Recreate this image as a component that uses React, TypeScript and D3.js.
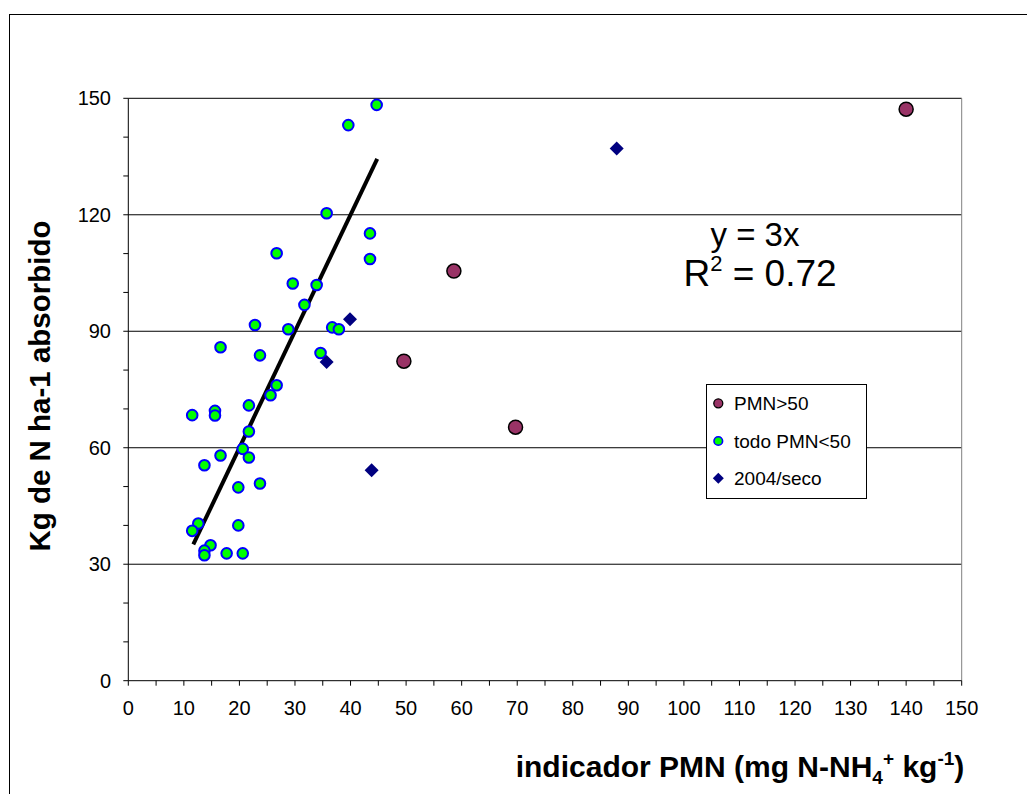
import React from "react";
import * as d3 from "d3";

// ---- data ----
const highX = [140, 58.6, 49.6, 69.7];
const highY = [147.2, 105.5, 82.3, 65.3];

const lowX = [44.7, 39.6, 35.7, 43.5, 43.5, 26.7, 29.6, 33.9, 31.7, 22.8, 28.8, 36.7, 37.9, 16.6, 23.7, 34.6, 26.7, 25.6, 21.7, 11.5, 15.6, 15.6, 21.7, 20.6, 21.7, 16.6, 13.7, 23.7, 19.8, 12.6, 11.5, 19.8, 14.8, 13.7, 13.7, 17.7, 20.6];
const lowY = [148.3, 143.1, 120.4, 115.2, 108.6, 110.1, 102.3, 101.9, 96.8, 91.6, 90.5, 91.0, 90.5, 85.9, 83.8, 84.4, 76.1, 73.5, 70.9, 68.4, 69.5, 68.3, 64.2, 59.7, 57.5, 58.0, 55.5, 50.8, 49.8, 40.5, 38.6, 40.0, 34.9, 33.5, 32.3, 32.8, 32.8];

const secoX = [87.9, 39.9, 35.7, 43.8];
const secoY = [137.1, 93.1, 82.1, 54.2];

const trendX = [11.7, 44.8];
const trendSlope = 3;

const xMajorTicks = [0, 10, 20, 30, 40, 50, 60, 70, 80, 90, 100, 110, 120, 130, 140, 150];
const yMajorTicks = [0, 30, 60, 90, 120, 150];

const legendLabels = ["PMN>50", "todo PMN<50", "2004/seco"];

export default function App() {
  const left = 128.3, right = 961.7, top = 98.3, bottom = 680.7;
  const x = d3.scaleLinear().domain([0, 150]).range([left, right]);
  const y = d3.scaleLinear().domain([0, 150]).range([bottom, top]);
  const font = "Arial, 'Liberation Sans', sans-serif";

  const xMinor = d3.range(0, 151, 5);
  const yMinor = d3.range(0, 151, 10);
  const line = d3.line<number>().x((v) => x(v)).y((v) => y(v * trendSlope));

  const diamond = (cx: number, cy: number, r: number) =>
    `M${cx},${cy - r}L${cx + r},${cy}L${cx},${cy + r}L${cx - r},${cy}Z`;

  const legX = 706, legY = 384, legW = 160, legH = 114;
  const rowY = [403.3, 441, 478.3];

  return (
    <svg width={1027} height={794} style={{ position: "absolute", left: 0, top: 0, background: "#fff" }} fontFamily={font}>
      <rect x={0} y={0} width={1027} height={794} fill="#fff" />
      <rect x={9.5} y={14.5} width={1030} height={800} fill="none" stroke="#000" strokeWidth={1} />

      {/* grid lines */}
      {yMajorTicks.filter((t) => t > 0).map((t) => (
        <line key={"g" + t} x1={left} x2={right} y1={y(t)} y2={y(t)} stroke="#000" strokeWidth={1} />
      ))}
      {/* plot border */}
      <line x1={right} x2={right} y1={top} y2={bottom} stroke="#808080" strokeWidth={1} />
      {/* axes */}
      <line x1={left} x2={left} y1={top} y2={bottom} stroke="#000" strokeWidth={1} />
      <line x1={left} x2={right} y1={bottom} y2={bottom} stroke="#000" strokeWidth={1} />

      {yMinor.map((t) => (
        <line key={"ym" + t} x1={left - 5} x2={left} y1={y(t)} y2={y(t)} stroke="#000" strokeWidth={1} />
      ))}
      {xMinor.map((t) => (
        <line key={"xm" + t} x1={x(t)} x2={x(t)} y1={bottom} y2={bottom + 5} stroke="#000" strokeWidth={1} />
      ))}

      {yMajorTicks.map((t) => (
        <text key={"yl" + t} x={111} y={y(t) + 7} textAnchor="end" fontSize={20} fill="#000">{t}</text>
      ))}
      {xMajorTicks.map((t) => (
        <text key={"xl" + t} x={x(t)} y={715} textAnchor="middle" fontSize={20} fill="#000">{t}</text>
      ))}

      {/* trend line */}
      <path d={line(trendX) || ""} stroke="#000" strokeWidth={4} fill="none" />

      {/* series */}
      {lowX.map((v, i) => (
        <circle key={"l" + i} cx={x(v)} cy={y(lowY[i])} r={5.3} fill="#00ff00" stroke="#0000ff" strokeWidth={2} />
      ))}
      {secoX.map((v, i) => (
        <path key={"s" + i} d={diamond(x(v), y(secoY[i]), 7)} fill="#000080" />
      ))}
      {highX.map((v, i) => (
        <circle key={"h" + i} cx={x(v)} cy={y(highY[i])} r={7} fill="#993366" stroke="#000" strokeWidth={1.5} />
      ))}

      {/* equation */}
      <text x={755} y={246} textAnchor="middle" fontSize={33} fill="#000">y = 3x</text>
      <text x={760} y={286} textAnchor="middle" fontSize={37} fill="#000">
        R<tspan dy={-15} fontSize={22}>2</tspan><tspan dy={15}> = 0.72</tspan>
      </text>

      {/* legend */}
      <rect x={legX + 0.5} y={legY + 0.5} width={legW} height={legH} fill="#fff" stroke="#000" strokeWidth={1} />
      <circle cx={718.3} cy={rowY[0]} r={4.5} fill="#993366" stroke="#000" strokeWidth={1.3} />
      <circle cx={718.3} cy={rowY[1]} r={4.3} fill="#00ff00" stroke="#0000ff" strokeWidth={1.6} />
      <path d={diamond(718.3, rowY[2], 5.5)} fill="#000080" />
      {legendLabels.map((l, i) => (
        <text key={l} x={734} y={rowY[i] + 7} fontSize={19} fill="#000">{l}</text>
      ))}

      {/* axis titles */}
      <text transform={`translate(50,386) rotate(-90)`} textAnchor="middle" fontSize={29.5} fontWeight="bold" fill="#000">
        Kg de N ha-1 absorbido
      </text>
      <text x={740} y={777} textAnchor="middle" fontSize={30} fontWeight="bold" fill="#000">
        indicador PMN (mg N-NH<tspan fontSize={19} dy={7}>4</tspan><tspan fontSize={19} dy={-19}>+</tspan><tspan dy={12}> kg</tspan><tspan fontSize={19} dy={-12}>-1</tspan><tspan dy={12}>)</tspan>
      </text>
    </svg>
  );
}
